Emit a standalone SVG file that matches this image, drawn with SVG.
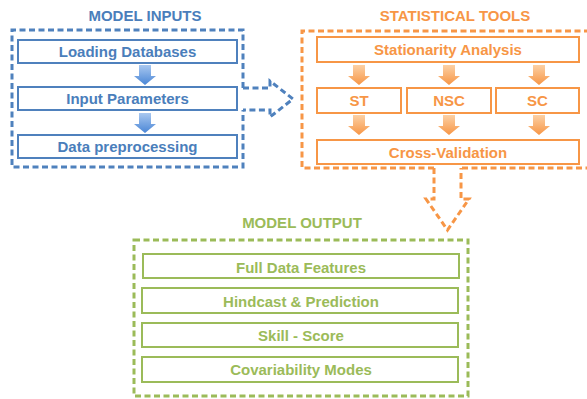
<svg xmlns="http://www.w3.org/2000/svg" width="587" height="399" viewBox="0 0 587 399">
<defs>
<linearGradient id="gb" x1="0" y1="0" x2="0" y2="1"><stop offset="0" stop-color="#a9c8f0"/><stop offset="1" stop-color="#4a86d6"/></linearGradient>
<linearGradient id="go" x1="0" y1="0" x2="0" y2="1"><stop offset="0" stop-color="#fcd0a4"/><stop offset="1" stop-color="#f79646"/></linearGradient>
<path id="da" d="M-6,0 H6 V11 H11 L0,20 L-11,11 H-6 Z"/>
</defs>
<style>
text{font-family:"Liberation Sans",Arial,sans-serif;font-weight:bold;font-size:15px;text-anchor:middle}
.dash{fill:none;stroke-width:3;stroke-dasharray:6 3.5}
.b{stroke:#4f81bd}.o{stroke:#f79646}.g{stroke:#9bbb59}
.box{fill:#fff;stroke-width:2}
.tb{fill:#4a7ebb}.to{fill:#f79646}.tg{fill:#9bbb59}
</style>
<rect width="587" height="399" fill="#fff"/>

<g id="model-inputs">
<path class="dash b" d="M243,88 V30 H12 V167 H243 V110"/>
<text class="tb" x="145" y="21">MODEL INPUTS</text>
<g id="loading-databases"><rect class="box b" x="18" y="40" width="219" height="23"/><text class="tb" x="127.5" y="57">Loading Databases</text></g>
<g id="input-parameters"><rect class="box b" x="18" y="87" width="219" height="23"/><text class="tb" x="127.5" y="104">Input Parameters</text></g>
<g id="data-preprocessing"><rect class="box b" x="18" y="135" width="219" height="23"/><text class="tb" x="127.5" y="152">Data preprocessing</text></g>
</g>

<g id="statistical-tools">
<path class="dash o" d="M434,168 H302 V31 H600 V168 H461"/>
<text class="to" x="455" y="21">STATISTICAL TOOLS</text>
<g id="stationarity-analysis"><rect class="box o" x="317" y="37" width="262" height="25"/><text class="to" x="448" y="55">Stationarity Analysis</text></g>
<g id="st"><rect class="box o" x="317" y="88" width="84" height="25"/><text class="to" x="359" y="106">ST</text></g>
<g id="nsc"><rect class="box o" x="407" y="88" width="84" height="25"/><text class="to" x="449" y="106">NSC</text></g>
<g id="sc"><rect class="box o" x="496" y="88" width="83" height="25"/><text class="to" x="537.5" y="106">SC</text></g>
<g id="cross-validation"><rect class="box o" x="317" y="140" width="262" height="24"/><text class="to" x="448" y="157.5">Cross-Validation</text></g>
</g>

<g id="model-output">
<rect class="dash g" x="134" y="240" width="334" height="156"/>
<text class="tg" x="302" y="228">MODEL OUTPUT</text>
<g id="full-data-features"><rect class="box g" x="143" y="254" width="316" height="24"/><text class="tg" x="301" y="272.5">Full Data Features</text></g>
<g id="hindcast-prediction"><rect class="box g" x="142" y="288" width="316" height="25"/><text class="tg" x="301" y="306.5">Hindcast &amp; Prediction</text></g>
<g id="skill-score"><rect class="box g" x="142" y="323" width="316" height="24"/><text class="tg" x="301" y="341">Skill - Score</text></g>
<g id="covariability-modes"><rect class="box g" x="142" y="357" width="316" height="25"/><text class="tg" x="301" y="375">Covariability Modes</text></g>
</g>

<g id="connectors">
<use href="#da" x="145" y="65" fill="url(#gb)"/>
<use href="#da" x="145" y="113" fill="url(#gb)"/>
<use href="#da" x="359" y="65" fill="url(#go)"/>
<use href="#da" x="449" y="65" fill="url(#go)"/>
<use href="#da" x="539" y="65" fill="url(#go)"/>
<use href="#da" x="359" y="115" fill="url(#go)"/>
<use href="#da" x="449" y="115" fill="url(#go)"/>
<use href="#da" x="539" y="115" fill="url(#go)"/>
<path class="dash b" d="M243,88 H270 V81 L293,99 L270,117 V110 H243"/>
<path class="dash o" d="M434,168 V199 H426 L447.5,230 L469,199 H461 V168"/>
</g>
</svg>
